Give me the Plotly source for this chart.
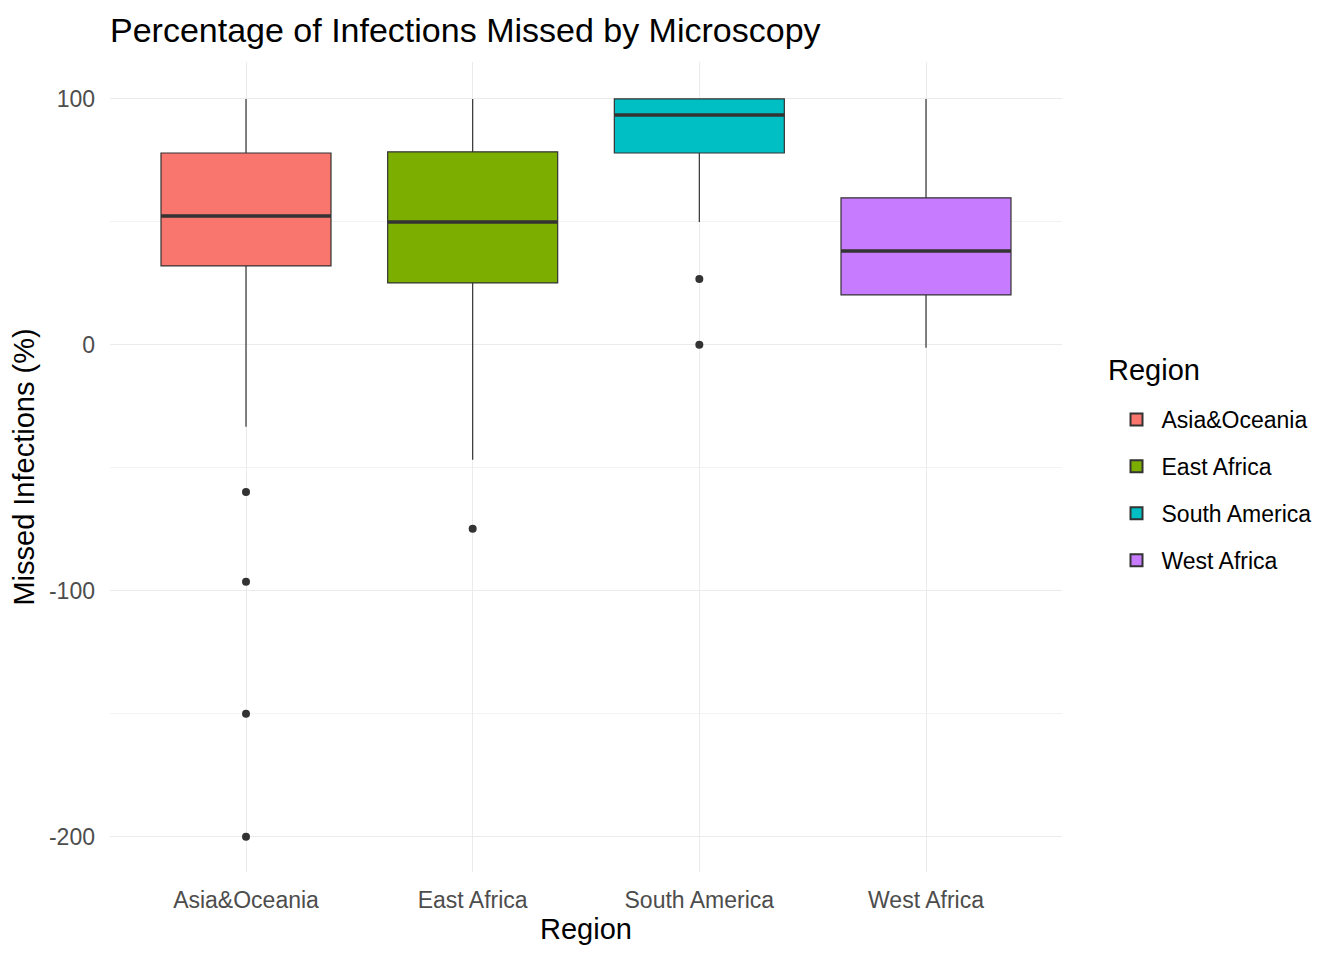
import plotly.graph_objects as go

regions = ["Asia&Oceania", "East Africa", "South America", "West Africa"]
colors = ["#F8766D", "#7CAE00", "#00BFC4", "#C77CFF"]
lower_whisker = [-33.3, -46.7, 50.0, -1.2]
q1 = [32.1, 25.2, 78.0, 20.3]
median = [52.4, 50.0, 93.5, 38.2]
q3 = [78.0, 78.5, 100.0, 59.8]
upper_whisker = [100.0, 100.0, 100.0, 100.0]
outlier_region = ["Asia&Oceania", "Asia&Oceania", "Asia&Oceania", "Asia&Oceania",
                  "East Africa", "South America", "South America"]
outlier_value = [-59.8, -96.3, -150.0, -200.0, -74.8, 26.8, 0.0]
y_ticks = [100, 0, -100, -200]
y_tick_labels = ["100", "0", "-100", "-200"]

FONT = "Liberation Sans, Arial, sans-serif"
BW = 0.75

fig = go.Figure()
for i, r in enumerate(regions):
    fig.add_trace(go.Box(
        x=[r], q1=[q1[i]], median=[median[i]], q3=[q3[i]],
        lowerfence=[lower_whisker[i]], upperfence=[upper_whisker[i]],
        name=r, legendgroup=r, fillcolor=colors[i], boxpoints=False, width=BW,
        line=dict(color="#333333", width=1.2), whiskerwidth=0,
        hoverinfo="skip",
    ))

fig.add_trace(go.Scatter(
    x=outlier_region, y=outlier_value, mode="markers",
    marker=dict(color="#333333", size=8), showlegend=False, hoverinfo="skip",
))

# thicker median lines (ggplot style)
for i, r in enumerate(regions):
    fig.add_shape(type="line", xref="x", yref="y",
                  x0=i - BW / 2, x1=i + BW / 2, y0=median[i], y1=median[i],
                  line=dict(color="#333333", width=3.5))

fig.add_annotation(text="Region", xref="paper", yref="paper",
                   x=(1106 - 110) / 952, y=(872 - 370) / 810,
                   xanchor="left", yanchor="middle", showarrow=False,
                   font=dict(size=29, color="black", family=FONT))

fig.update_layout(
    width=1344, height=960,
    paper_bgcolor="white", plot_bgcolor="white",
    margin=dict(l=102, r=290, t=54, b=96),
    font=dict(family=FONT, color="black"),
    title=dict(text="Percentage of Infections Missed by Microscopy",
               x=102 / 1344, xanchor="left", y=1 - 22 / 960, yanchor="middle",
               font=dict(size=34, color="black", family=FONT)),
    showlegend=True,
    legend=dict(font=dict(size=23), x=1.052, xanchor="left",
                y=0.4716, yanchor="middle", tracegroupgap=14,
                itemwidth=40, itemsizing="constant"),
)
fig.update_xaxes(
    categoryorder="array", categoryarray=regions,
    range=[-0.6, 3.6],
    showgrid=True, gridcolor="#ebebeb", gridwidth=1.2,
    zeroline=False, showline=False, ticks="", ticklabelstandoff=12,
    tickfont=dict(size=23, color="#4d4d4d"),
    title=dict(text="Region", font=dict(size=29, color="black"), standoff=6),
)
fig.update_yaxes(
    range=[-214.3, 115.0],
    tickvals=y_ticks, ticktext=y_tick_labels,
    showgrid=True, gridcolor="#ebebeb", gridwidth=1.2,
    minor=dict(tickvals=[50, -50, -150], showgrid=True, gridcolor="#f3f3f3", gridwidth=0.8),
    zeroline=False, showline=False, ticks="", ticklabelstandoff=14,
    tickfont=dict(size=23, color="#4d4d4d"),
    title=dict(text="Missed Infections (%)", font=dict(size=29, color="black"), standoff=10),
)

fig.write_html("out.html")
